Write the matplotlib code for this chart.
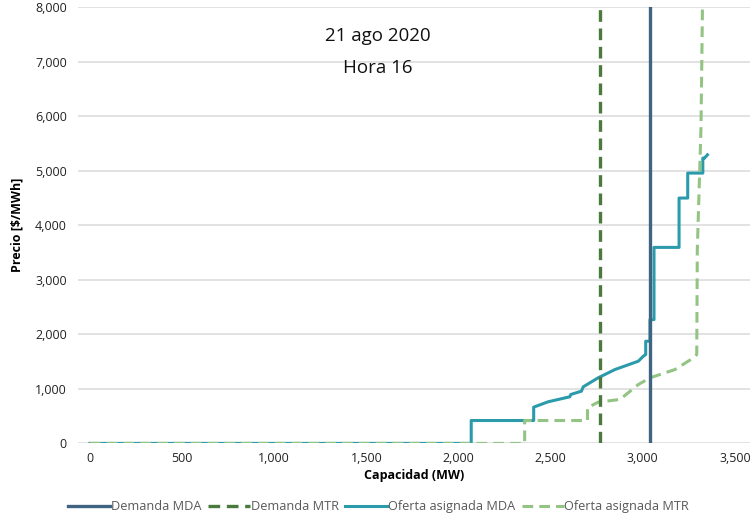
import matplotlib
matplotlib.use("Agg")
import matplotlib.pyplot as plt
from matplotlib.ticker import FuncFormatter

plt.rcParams.update({
    "font.family": ["Open Sans", "DejaVu Sans"],
    "font.size": 9,
})

# ── Data ──────────────────────────────────────────────────────────────────── #
demanda_mda = 3039
demanda_mtr = 2770

oferta_mda_x = [0, 2069, 2069, 2408, 2408, 2486, 2604, 2609, 2667, 2677, 2758,
                2849, 2976, 3003, 3016, 3016, 3039, 3039, 3061, 3061, 3197,
                3197, 3244, 3244, 3326, 3326, 3335, 3351]
oferta_mda_y = [0, 0, 420, 420, 665, 763, 855, 897, 958, 1038, 1203,
                1355, 1508, 1599, 1630, 1874, 1874, 2271, 2271, 3595, 3595,
                4500, 4500, 4958, 4958, 5232, 5232, 5293]

oferta_mtr_x = [0, 2359, 2359, 2700, 2700, 2758, 2876, 2976, 3039, 3175,
                3275, 3293, 3296, 3316, 3324]
oferta_mtr_y = [0, 0, 420, 420, 654, 757, 806, 1080, 1203, 1355,
                1569, 1630, 3550, 5790, 8000]

y_ticks = [0, 1000, 2000, 3000, 4000, 5000, 6000, 7000, 8000]
x_ticks = [0, 500, 1000, 1500, 2000, 2500, 3000, 3500]

C_DEM_MDA = "#3f6482"
C_DEM_MTR = "#4a7a3c"
C_OF_MDA = "#2b9bac"
C_OF_MTR = "#93c484"

fig = plt.figure(figsize=(7.5, 5.15), dpi=100)
ax = fig.add_axes([0.104, 0.139, 0.896, 0.847])

ax.plot([demanda_mda, demanda_mda], [0, 8000], color=C_DEM_MDA, lw=2.4,
        label="Demanda MDA", zorder=4)
ax.plot([demanda_mtr, demanda_mtr], [0, 8000], color=C_DEM_MTR, lw=2.4,
        ls=(0, (3.5, 2)), label="Demanda MTR", zorder=4)
ax.plot(oferta_mda_x, oferta_mda_y, color=C_OF_MDA, lw=2.2,
        label="Oferta asignada MDA", zorder=3)
ax.plot(oferta_mtr_x, oferta_mtr_y, color=C_OF_MTR, lw=2.2,
        ls=(0, (3.5, 2)), label="Oferta asignada MTR", zorder=3)

ax.set_xlim(-65, 3582)
ax.set_ylim(0, 8000)
ax.set_yticks(y_ticks)
ax.set_xticks(x_ticks)
fmt = FuncFormatter(lambda v, p: f"{int(v):,}")
ax.xaxis.set_major_formatter(fmt)
ax.yaxis.set_major_formatter(fmt)
ax.tick_params(length=0, labelsize=9, colors="#222222", pad=6)
ax.tick_params(axis="y", pad=8)
for s in ax.spines.values():
    s.set_visible(False)
ax.grid(True, axis="y", color="#dddddd", lw=1.2, zorder=0)
ax.set_axisbelow(True)

ax.set_xlabel("Capacidad (MW)", fontweight="bold", fontsize=9, labelpad=3)
ax.set_ylabel("Precio [$/MWh]", fontweight="bold", fontsize=9, labelpad=8)

ax.text(0.446, 0.934, "21 ago 2020", transform=ax.transAxes, ha="center",
        va="center", fontsize=13.5, color="#111111")
ax.text(0.446, 0.861, "Hora 16", transform=ax.transAxes, ha="center",
        va="center", fontsize=13.5, color="#111111")

leg = fig.legend(loc="center", bbox_to_anchor=(0.505, 0.016), ncol=4,
                 frameon=False, fontsize=9.2, handlelength=3.3,
                 handletextpad=0.05, columnspacing=0.5, labelcolor="#595959")

fig.savefig("out.png", dpi=100)
